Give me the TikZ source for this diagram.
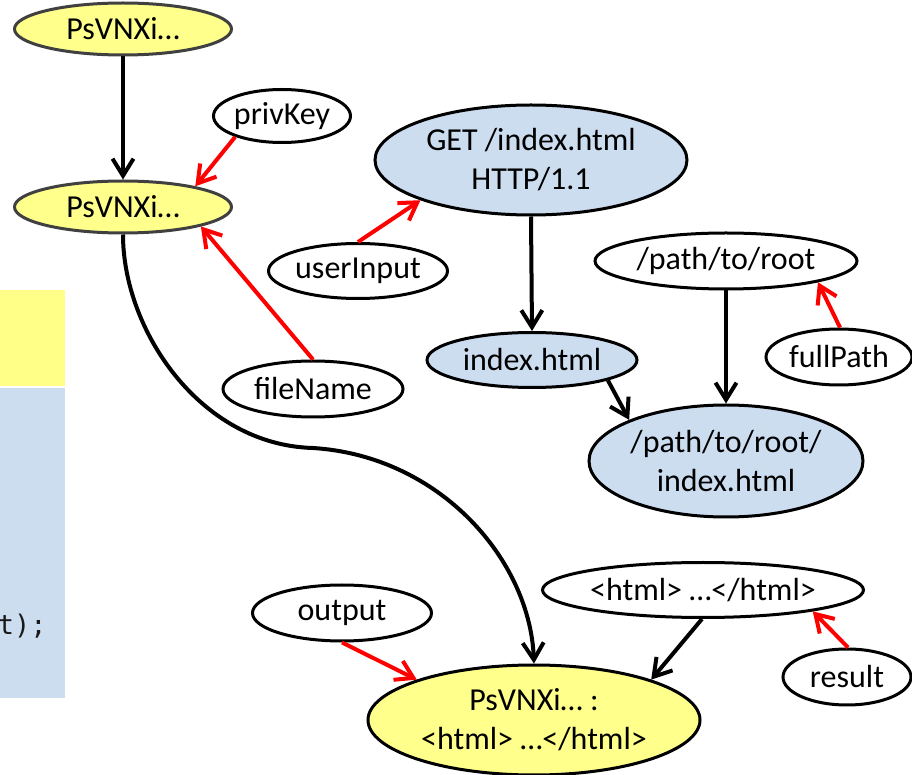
\documentclass[tikz,border=0pt]{standalone}
\usepackage{fontspec}
\setmainfont{Carlito}
\newfontfamily\codefont{DejaVu Sans Mono}
\usetikzlibrary{arrows.meta,shapes.geometric}

\definecolor{valyellow}{RGB}{255,255,140}
\definecolor{codeyellow}{RGB}{255,255,136}
\definecolor{valblue}{RGB}{204,221,240}
\definecolor{edgegray}{RGB}{64,64,64}
\definecolor{codegray}{RGB}{25,25,25}

\tikzset{
  val/.style={ellipse, draw=black, line width=1.5pt, inner sep=0pt,
    align=center, font=\fontsize{16}{19.5}\selectfont},
  valsym/.style={val, fill=valyellow},
  valsymgray/.style={valsym, draw=edgegray},
  valconc/.style={val, fill=valblue},
  flow/.style={line width=2pt, black, -{Straight Barb[length=8.5pt,width=10.5pt]}},
  taint/.style={line width=2pt, red, -{Straight Barb[length=8.5pt,width=10.5pt]}},
}

\begin{document}
\begin{tikzpicture}[x=0.5pt,y=-0.5pt]
\useasboundingbox (0,0) rectangle (912,775);
\clip (0,0) rectangle (912,775);

% code panel at the left edge
\fill[codeyellow] (0,290) rectangle (65,386);
\fill[valblue] (0,388) rectangle (65,698);
\node[anchor=base east, inner sep=0pt, text=codegray,
      font=\codefont\fontsize{13.5}{16}\selectfont] (codetail) at (47,635) {t);};

% value nodes
\node[valsymgray, minimum width=108.5pt, minimum height=26pt] (s1) at (123,29) {PsVNXi…};
\node[valsymgray, minimum width=108.5pt, minimum height=26pt] (s2) at (123,207) {PsVNXi…};
\node[val, minimum width=68.5pt, minimum height=26.5pt] (privkey) at (282,116) {privKey};
\node[valconc, minimum width=156pt, minimum height=55pt] (get) at (531,160) {GET /index.html\\HTTP/1.1};
\node[val, minimum width=89.5pt, minimum height=27.5pt] (userinput) at (358,271) {userInput};
\node[val, minimum width=131pt, minimum height=28pt] (root) at (726,261) {/path/to/root};
\node[val, minimum width=90pt, minimum height=28pt] (filename) at (313,389) {fileName};
\node[valconc, minimum width=105pt, minimum height=27.5pt] (index) at (532,360) {index.html};
\node[val, minimum width=73pt, minimum height=28pt] (fullpath) at (839,357) {fullPath};
\node[valconc, minimum width=137pt, minimum height=56pt] (pathidx) at (726,461) {/path/to/root/\\index.html};
\node[val, minimum width=89.5pt, minimum height=28pt] (output) at (342,613) {output};
\node[val, minimum width=160.5pt, minimum height=27.5pt, inner xsep=-9pt] (html) at (703,590) {<html> …</html>};
\node[val, minimum width=64pt, minimum height=28pt] (result) at (847,677) {result};
\node[valsym, minimum width=166pt, minimum height=55pt] (out) at (534,720) {PsVNXi… :\\<html> …</html>};

% data flow
\draw[flow] (s1.south) -- (s2.north);
\draw[flow] (get.south) -- (index.north);
\draw[flow] (index.345) -- (pathidx.157.6);
\draw[flow] (root.south) -- (pathidx.north);
\draw[flow] (html.268) -- (out.19.6);
\draw[flow] (s2.south) .. controls (123,330) and (200,445) .. (313,448)
                       .. controls (440,456) and (530,560) .. (out.north);

% variable bindings
\draw[taint] (privkey.204) -- (s2.16);
\draw[taint] (filename.90) -- (s2.346);
\draw[taint] (userinput.90) -- (get.200);
\draw[taint] (fullpath.88) -- (root.347);
\draw[taint] (output.270) -- (out.161.7);
\draw[taint] (result.88) -- (html.349);
\end{tikzpicture}
\end{document}
